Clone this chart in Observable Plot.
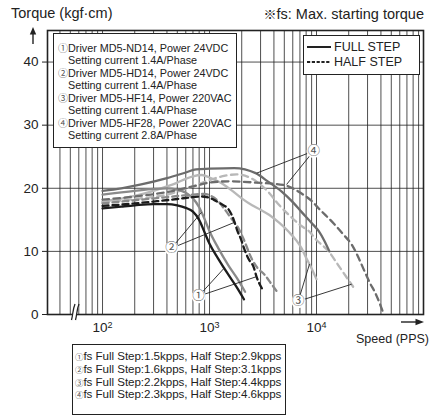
<!DOCTYPE html>
<html>
<head>
<meta charset="utf-8">
<script src="https://cdn.jsdelivr.net/npm/d3@7"></script>
<script src="https://cdn.jsdelivr.net/npm/@observablehq/plot@0.6"></script>
<style>
  html, body { margin:0; padding:0; background:#fff; }
  body { width:430px; height:417px; position:relative; overflow:hidden; font-family:"Liberation Sans", Arial, sans-serif; color:#222; }
  #chart { position:absolute; left:0; top:0; }
  .abs { position:absolute; white-space:nowrap; }
  .box { position:absolute; box-sizing:border-box; background:#fff; border:1.4px solid #222; white-space:nowrap; overflow:hidden; }
  .cj { font-family:"Noto Sans CJK JP", "DejaVu Sans", sans-serif; color:#555; }
</style>
</head>
<body>
<div id="chart"></div>
<div class="abs" style="left:11px; top:5px; font-size:14.5px;">Torque (kgf·cm)</div>
<div class="abs" style="right:6px; top:4px; font-size:14.5px;"><span class="cj" style="color:#222;font-size:13px">※</span>fs: Max. starting torque</div>
<div class="abs" style="right:1px; top:332px; font-size:12.5px;">Speed (PPS)</div>

<div class="box" id="lg1" style="left:53px; top:33px; width:184px; height:115px; padding:8px 0 0 4px; font-size:10.8px; line-height:12.45px;"></div>
<div class="box" id="lg2" style="left:303px; top:35px; width:117px; height:40px;"></div>
<div class="box" id="lg3" style="left:72px; top:344px; width:214px; height:71px; padding:5px 0 0 2px; font-size:11.6px; line-height:12.8px; letter-spacing:-0.05px;"></div>

<svg id="deco" width="430" height="417" style="position:absolute;left:0;top:0;pointer-events:none">
  <line x1="33" y1="44" x2="33" y2="31" stroke="#222" stroke-width="1.4"/>
  <polygon points="29.8,34.5 33,27 36.2,34.5" fill="#222"/>
  <line x1="401" y1="322" x2="418" y2="322" stroke="#222" stroke-width="1.4"/>
  <polygon points="415.5,318.8 424,322 415.5,325.2" fill="#222"/>
  <polygon points="71,319 74,305 79,305 76,319" fill="#fff"/>
  <path d="M71.5,320 C73,315 72.5,310 75,304" stroke="#222" stroke-width="1.3" fill="none"/>
  <path d="M75.5,320 C77,315 76.5,310 79,304" stroke="#222" stroke-width="1.3" fill="none"/>
</svg>

<script>
// ---------- data (speed in PPS, torque in kgf·cm) ----------
const driverNotes = [
  ["①", "Driver MD5-ND14, Power 24VDC", "Setting current 1.4A/Phase"],
  ["②", "Driver MD5-HD14, Power 24VDC", "Setting current 1.4A/Phase"],
  ["③", "Driver MD5-HF14, Power 220VAC", "Setting current 1.4A/Phase"],
  ["④", "Driver MD5-HF28, Power 220VAC", "Setting current 2.8A/Phase"]
];
const fsNotes = [
  ["①", "fs Full Step:1.5kpps, Half Step:2.9kpps"],
  ["②", "fs Full Step:1.6kpps, Half Step:3.1kpps"],
  ["③", "fs Full Step:2.2kpps, Half Step:4.4kpps"],
  ["④", "fs Full Step:2.3kpps, Half Step:4.6kpps"]
];
const stepLegend = ["FULL STEP", "HALF STEP"];

const speedGrid = [40,50,60,70,80,90,100,200,300,400,500,600,700,800,900,
  1000,2000,3000,4000,5000,6000,7000,8000,9000,
  10000,20000,30000,40000,50000,60000,70000,80000,90000];
const speedTicks = [100, 1000, 10000];
const torqueTicks = [0, 10, 20, 30, 40];

const full1 = [[100,16.8],[150,17.1],[200,17.3],[300,17.5],[400,17.5],[500,17.3],[600,16.9],[700,16.3],[800,15.0],[900,13.0],[1000,11.2],[1200,8.9],[1500,6.3],[1800,4.3],[2100,2.4]];
const half1 = [[100,17.2],[200,17.6],[300,17.9],[500,18.3],[700,18.6],[840,18.7],[1000,18.5],[1090,18.2],[1290,17.5],[1500,16.7],[1600,15.9],[1700,14.8],[1800,13.5],[2000,11.6],[2100,10.5],[2300,8.9],[2600,7.4],[2750,6.0],[3100,4.1]];
const full2 = [[100,19.0],[200,19.6],[300,19.9],[400,20.0],[500,19.8],[600,19.3],[700,18.4],[800,17.0],[900,15.1],[1000,13.2],[1200,10.6],[1500,7.8],[1800,5.8],[2150,3.6]];
const half2 = [[100,17.6],[200,18.1],[400,18.6],[700,19.0],[900,19.1],[1000,18.9],[1200,18.0],[1380,16.7],[1600,15.2],[1860,13.7],[2100,11.8],[2470,8.9],[2800,7.4],[3270,6.3],[3800,4.8],[4420,3.3]];
const full3 = [[100,17.9],[200,18.8],[300,19.6],[400,20.3],[500,20.9],[600,21.5],[700,21.9],[850,22.1],[1000,21.7],[1300,20.8],[1600,19.7],[2000,18.4],[2500,17.3],[3000,16.6],[3600,15.8],[4500,14.5],[5500,13.1],[6500,11.7],[7300,10.4],[8000,9.0],[9000,7.3],[10000,5.6]];
const half3 = [[100,17.8],[200,18.3],[400,19.0],[700,20.3],[1000,21.3],[1400,22.0],[1800,22.2],[2500,21.5],[3500,19.5],[4500,17.3],[5500,15.8],[7000,14.2],[8500,13.2],[10000,11.8],[13000,10.0],[16000,7.8],[20000,5.4],[22000,4.4]];
const full4 = [[100,19.6],[150,20.0],[230,20.6],[400,21.6],[600,22.5],[750,23.0],[1000,23.1],[1700,23.2],[2700,22.4],[3500,21.1],[4700,19.5],[6000,17.8],[7200,16.3],[9000,14.5],[10500,13.2],[12000,11.5],[13200,10.0]];
const half4 = [[100,18.2],[200,18.7],[400,19.4],[700,20.3],[1000,20.9],[1500,21.1],[2700,20.9],[5000,20.5],[6000,20.0],[7200,19.2],[9000,18.0],[10500,16.8],[14700,14.3],[18000,12.6],[21300,11.1],[25000,8.8],[28200,6.8],[32000,4.8],[35000,3.6],[42000,0.3]];

const seriesColors = {"1":"#1c1c1c","2":"#8a8a8a","3":"#b8b8b8","4":"#6c6c6c"};

// callout labels: position and the curve points their leader lines reach
const callouts = [
  {n:"④", x:9400, y:25.9, to:[[2760,22.4],[5250,20.6]]},
  {n:"②", x:441,  y:10.5, to:[[842,16.2],[1713,14.6]]},
  {n:"①", x:790,  y:2.9,  to:[[1380,7.4],[2750,6.0]]},
  {n:"③", x:6750, y:2.1,  to:[[8600,8.0],[21300,4.8]]}
];

// ---------- chart ----------
const curves = [
  {d:half3, c:seriesColors["3"], dash:"6.5,4.5"},
  {d:full3, c:seriesColors["3"], dash:null},
  {d:half2, c:seriesColors["2"], dash:"6,4"},
  {d:full2, c:seriesColors["2"], dash:null},
  {d:half4, c:seriesColors["4"], dash:"6.5,4.5"},
  {d:full4, c:seriesColors["4"], dash:null},
  {d:half1, c:seriesColors["1"], dash:"6,4"},
  {d:full1, c:seriesColors["1"], dash:null}
];

const links = callouts.flatMap(c => c.to.map(t => ({x1:c.x, y1:c.y, x2:t[0], y2:t[1]})));

const chart = Plot.plot({
  width: 430, height: 340,
  marginLeft: 47, marginRight: 7, marginTop: 30, marginBottom: 26,
  style: {fontFamily: "Liberation Sans, Arial, sans-serif", color: "#222", background: "transparent"},
  x: {type: "log", domain: [30.6, 100000]},
  y: {domain: [0, 45]},
  marks: [
    Plot.ruleX(speedGrid, {stroke: "#222", strokeWidth: 0.8}),
    Plot.ruleY([10, 20, 30, 40], {stroke: "#222", strokeWidth: 0.8}),
    ...curves.map(s => Plot.line(s.d, {x: d => d[0], y: d => d[1], stroke: s.c, strokeWidth: 2.3,
      strokeDasharray: s.dash, curve: "monotone-x"})),
    Plot.link(links, {x1: "x1", y1: "y1", x2: "x2", y2: "y2", stroke: "#222", strokeWidth: 0.9}),
    Plot.dot(callouts, {x: "x", y: "y", r: 7, fill: "white", stroke: "none"}),
    Plot.text(callouts, {x: "x", y: "y", text: "n", fontSize: 12.5, fill: "#555",
      fontFamily: "Noto Sans CJK JP, DejaVu Sans, sans-serif"}),
    Plot.frame({stroke: "#222", strokeWidth: 1.6}),
    Plot.axisY({ticks: torqueTicks, tickSize: 5, tickPadding: 4, fontSize: 13.5, label: null, stroke: "#222"}),
    Plot.axisX({ticks: speedTicks, tickSize: 0, tickPadding: 8, fontSize: 13.5, label: null,
      tickFormat: d => String(Math.round(Math.log10(d)))})
  ]
});
document.getElementById("chart").appendChild(chart);

// superscript exponents on the x tick labels
d3.select(chart).selectAll('g[aria-label="x-axis tick label"] text').each(function() {
  const t = d3.select(this);
  const e = t.text();
  t.text(null);
  t.append("tspan").text("10");
  t.append("tspan").attr("dy", "-0.5em").attr("font-size", "9px").text(e);
});

// ---------- legends ----------
const lg1 = document.getElementById("lg1");
driverNotes.forEach(r => {
  lg1.insertAdjacentHTML("beforeend",
    `<div><span class="cj" style="font-size:10px">${r[0]}</span>${r[1]}</div>` +
    `<div style="padding-left:10px">${r[2]}</div>`);
});

const lg2 = document.getElementById("lg2");
stepLegend.forEach((label, i) => {
  lg2.insertAdjacentHTML("beforeend",
    `<div style="position:absolute;left:3px;top:${3 + i * 15}px;height:15px;display:flex;align-items:center;font-size:12.5px;white-space:nowrap">` +
    `<svg width="24" height="4" style="margin-right:3px"><line x1="0" y1="2" x2="24" y2="2" stroke="#222" stroke-width="2" ${i ? 'stroke-dasharray="3.2,1.6"' : ''}/></svg>${label}</div>`);
});

const lg3 = document.getElementById("lg3");
fsNotes.forEach(r => {
  lg3.insertAdjacentHTML("beforeend",
    `<div><span class="cj" style="font-size:8.5px">${r[0]}</span>${r[1]}</div>`);
});
</script>
</body>
</html>
